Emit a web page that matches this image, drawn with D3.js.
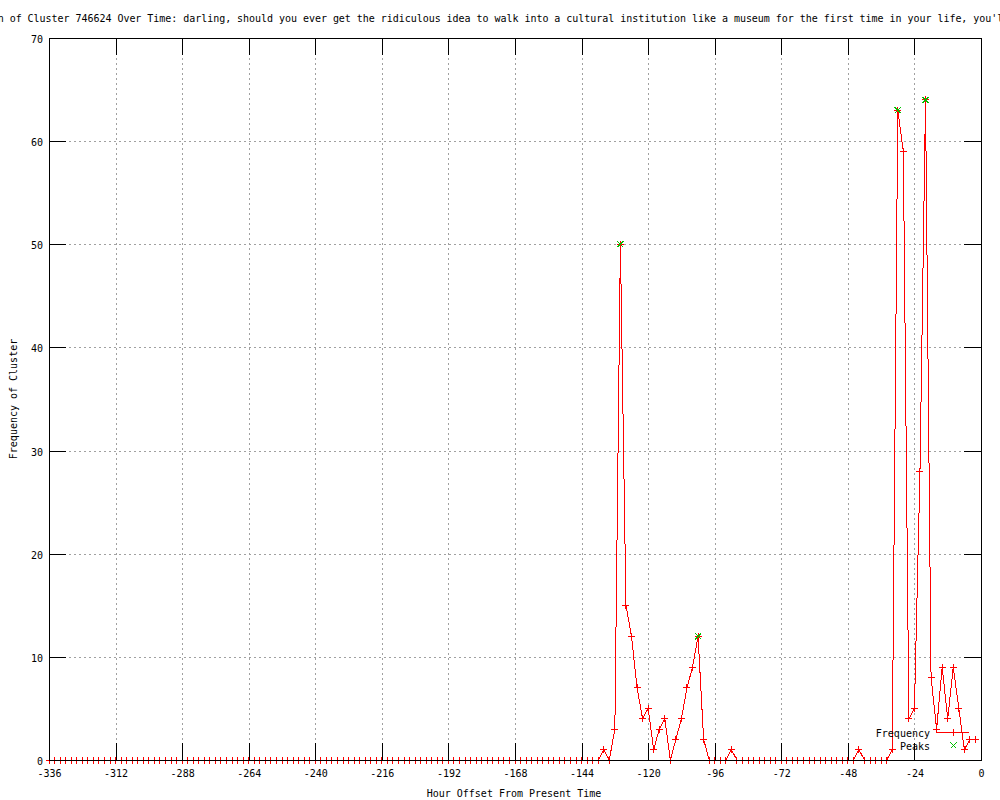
<!DOCTYPE html>
<html>
<head>
<meta charset="utf-8">
<script src="https://cdn.jsdelivr.net/npm/d3@7"></script>
<style>
body { margin: 0; background: #fff; }
svg { display: block; }
text { font-family: "DejaVu Sans Mono", monospace; font-size: 10px; fill: #000; }
.grid line { stroke: #a0a0a0; stroke-dasharray: 2,3; shape-rendering: crispEdges; }
.axis path, .axis line { stroke: #000; shape-rendering: crispEdges; }
</style>
</head>
<body>
<div id="chart"></div>
<script>
// hours before now, one sample every 2 hours
var hours = d3.range(-336, 0, 2);

// cluster frequency per sample (-336 ... -2)
var frequency = [
    0,0,0,0,0,0,0,0,0,0, 0,0,0,0,0,0,0,0,0,0,
    0,0,0,0,0,0,0,0,0,0, 0,0,0,0,0,0,0,0,0,0,
    0,0,0,0,0,0,0,0,0,0, 0,0,0,0,0,0,0,0,0,0,
    0,0,0,0,0,0,0,0,0,0, 0,0,0,0,0,0,0,0,0,0,
    0,0,0,0,0,0,0,0,0,0, 0,0,0,0,0,0,0,0,0,0,
    1,0,3,50,15,12,7,4,5,1, 3,4,0,2,4,7,9,12,2,0,
    0,0,0,1,
    0,0,0,0,0,0,0,0,0,0, 0,0,0,0,0,0,0,0,0,0, 0,0,
    1,0,0,0,0,0,
    1,63,59,4,5,28,64,8,3,9, 4,9,5,1,2,2
];

// detected peaks
var peakHours = [-130, -102, -30, -20];
var peakValues = [50, 12, 63, 64];

var xTicks = [-336, -312, -288, -264, -240, -216, -192, -168, -144, -120, -96, -72, -48, -24, 0];
var yTicks = [0, 10, 20, 30, 40, 50, 60, 70];

var titleText = "Frequency Distribution of Cluster 746624 Over Time: darling, should you ever get the ridiculous idea to walk into a cultural institution like a museum for the first time in your life, you'll";
var xLabel = "Hour Offset From Present Time";
var yLabel = "Frequency of Cluster";
var seriesNames = ["Frequency", "Peaks"];

function clusterChart(){
    var margin = {top: 38, right: 19, bottom: 40, left: 49};
    var width = 1000 - margin.left - margin.right;
    var height = 800 - margin.top - margin.bottom;

    var x = d3.scaleLinear().domain([-336, 0]).range([0, width]);
    var y = d3.scaleLinear().domain([0, 70]).range([height, 0]);

    var svg = d3.select("#chart")
        .append("svg")
        .attr("width", width + margin.left + margin.right)
        .attr("height", height + margin.top + margin.bottom);

    // title runs off both sides, like the original
    svg.append("text")
        .attr("x", -128)
        .attr("y", 22)
        .style("letter-spacing", "-0.035px")
        .text(titleText);

    var g = svg.append("g")
        .attr("transform", "translate(" + margin.left + "," + margin.top + ")");

    // dashed grid
    var grid = g.append("g").attr("class", "grid");
    grid.selectAll(".gx")
        .data(xTicks)
        .enter().append("line")
        .attr("x1", function(d) { return Math.round(x(d)) + 0.5; })
        .attr("x2", function(d) { return Math.round(x(d)) + 0.5; })
        .attr("y1", 0)
        .attr("y2", height);
    grid.selectAll(".gy")
        .data(yTicks)
        .enter().append("line")
        .attr("x1", 0)
        .attr("x2", width)
        .attr("y1", function(d) { return Math.round(y(d)) + 0.5; })
        .attr("y2", function(d) { return Math.round(y(d)) + 0.5; });

    var points = hours.map(function(h, i) { return {h: h, v: frequency[i]}; });
    var peaks = peakHours.map(function(h, i) { return {h: h, v: peakValues[i]}; });

    var line = d3.line()
        .x(function(d) { return x(d.h); })
        .y(function(d) { return y(d.v); });

    g.append("path")
        .datum(points)
        .attr("d", line)
        .attr("fill", "none")
        .attr("stroke", "#ff0000")
        .attr("stroke-width", 1)
        .attr("shape-rendering", "crispEdges");

    var plus = "M-3.5,0H3.5M0,-3.5V3.5";
    var cross = "M-3,-3L3,3M-3,3L3,-3";

    g.selectAll(".pt")
        .data(points)
        .enter().append("path")
        .attr("class", "pt")
        .attr("transform", function(d) { return "translate(" + x(d.h) + "," + y(d.v) + ")"; })
        .attr("d", plus)
        .attr("stroke", "#ff0000")
        .attr("fill", "none")
        .attr("shape-rendering", "crispEdges");

    g.selectAll(".peak")
        .data(peaks)
        .enter().append("path")
        .attr("class", "peak")
        .attr("transform", function(d) { return "translate(" + x(d.h) + "," + y(d.v) + ")"; })
        .attr("d", cross)
        .attr("stroke", "#00c000")
        .attr("fill", "none")
        .attr("shape-rendering", "crispEdges");

    // axes on all four sides, ticks pointing inwards
    g.append("g")
        .attr("class", "axis")
        .attr("transform", "translate(0," + height + ")")
        .call(d3.axisBottom(x).tickValues(xTicks).tickSize(-17).tickPadding(10)
            .tickFormat(function(d) { return String(d); }))
        .selectAll("text").style("font-family", "DejaVu Sans Mono").style("font-size", "10px");

    g.append("g")
        .attr("class", "axis")
        .call(d3.axisTop(x).tickValues(xTicks).tickSize(-17).tickFormat(""));

    g.append("g")
        .attr("class", "axis")
        .call(d3.axisLeft(y).tickValues(yTicks).tickSize(-17).tickPadding(6)
            .tickFormat(function(d) { return String(d); }))
        .selectAll("text").attr("dy", "0.45em")
        .style("font-family", "DejaVu Sans Mono").style("font-size", "10px");

    g.append("g")
        .attr("class", "axis")
        .attr("transform", "translate(" + width + ",0)")
        .call(d3.axisRight(y).tickValues(yTicks).tickSize(-17).tickFormat(""));

    // axis titles
    svg.append("text")
        .attr("x", 514)
        .attr("y", 796.5)
        .attr("text-anchor", "middle")
        .text(xLabel);

    svg.append("text")
        .attr("transform", "translate(17,399) rotate(-90)")
        .attr("text-anchor", "middle")
        .text(yLabel);

    // key, bottom right
    var key = svg.append("g");
    key.append("text").attr("x", 930).attr("y", 737).attr("text-anchor", "end").text(seriesNames[0]);
    key.append("text").attr("x", 930).attr("y", 750).attr("text-anchor", "end").text(seriesNames[1]);
    key.append("line")
        .attr("x1", 937).attr("x2", 969).attr("y1", 732.5).attr("y2", 732.5)
        .attr("stroke", "#ff0000").attr("shape-rendering", "crispEdges");
    key.append("path")
        .attr("transform", "translate(953.5,732.5)")
        .attr("d", plus).attr("stroke", "#ff0000").attr("fill", "none")
        .attr("shape-rendering", "crispEdges");
    key.append("path")
        .attr("transform", "translate(953.5,745.5)")
        .attr("d", cross).attr("stroke", "#00c000").attr("fill", "none")
        .attr("shape-rendering", "crispEdges");
}

clusterChart();
</script>
</body>
</html>
